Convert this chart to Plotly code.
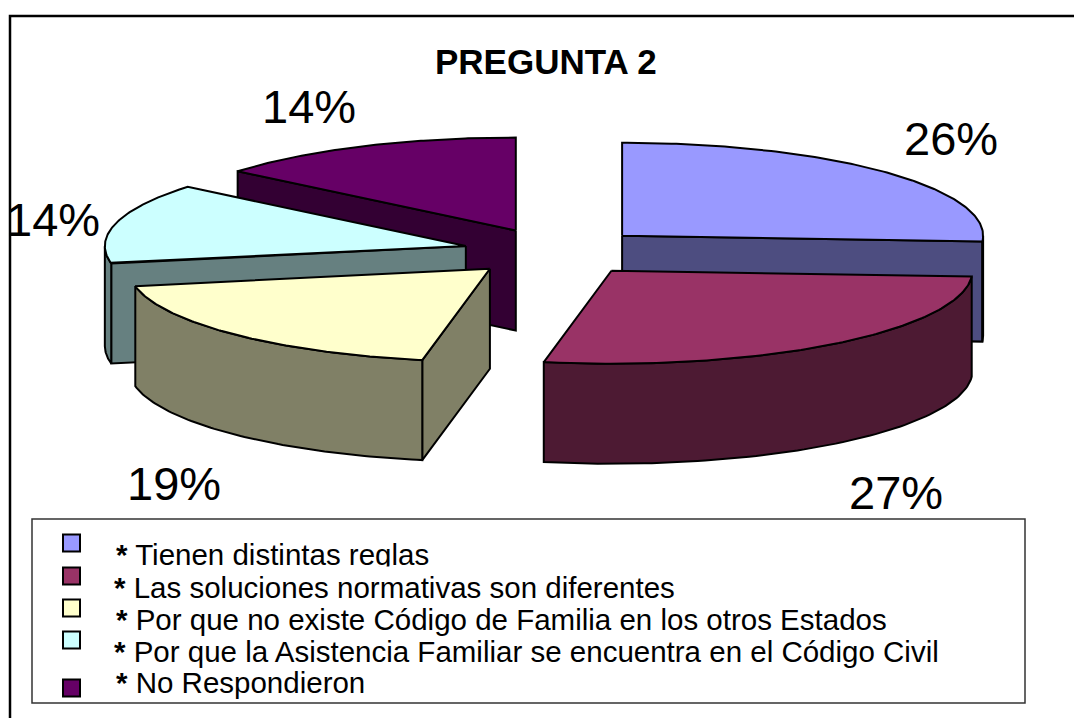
import numpy as np
import plotly.graph_objects as go

# ---- data ----
categories = [
    "Tienen distintas reglas",
    "Las soluciones normativas son diferentes",
    "Por que no existe Código de Familia en los otros Estados",
    "Por que la Asistencia Familiar se encuentra en el Código Civil",
    "No Respondieron",
]
values = [26, 27, 19, 14, 14]
title_text = "PREGUNTA 2"
top_colors = ["#9999FF", "#993366", "#FFFFCC", "#CCFFFF", "#660066"]
side_colors = ["#4D4D80", "#4D1A33", "#808066", "#668080", "#330033"]

# ---- layout of the drawing (pixels of the page) ----
W, H = 1074, 718
CX, CY, RX, RY = 555, 252, 361, 93
EXPLODE, DEPTH = 0.255, 100
FONT = "Liberation Sans, Arial, sans-serif"
label_pos = [(951, 153), (896, 507), (174, 498), (53, 234), (309, 121)]
legend_marker_x = 71.5
legend_marker_y = [543, 576, 608, 640, 688]
legend_text_x = [115, 113, 115, 113, 115]
legend_baseline = [565, 598, 630, 662, 693]
LABEL_PX, LEGEND_PX, TITLE_PX = 47, 29.5, 35
CLIP_PAD = 4

fig = go.Figure()


def poly(xs, ys, fill):
    fig.add_trace(go.Scatter(
        x=xs, y=ys, mode="lines", fill="toself", fillcolor=fill,
        line=dict(color="black", width=2), hoverinfo="skip", showlegend=False))


edges = np.cumsum([0] + values) / sum(values) * 2 * np.pi
mids = (edges[:-1] + edges[1:]) / 2
for i in np.argsort(-np.cos(mids)):
    a0, a1 = edges[i], edges[i + 1]
    ax = CX + EXPLODE * RX * np.sin(mids[i])
    ay = CY - EXPLODE * RY * np.cos(mids[i])
    rim = lambda t: (ax + RX * np.sin(t), ay - RY * np.cos(t))

    # cut faces that look towards the viewer
    if np.sin(a0) < -1e-9:
        px, py = rim(a0)
        poly([ax, px, px, ax, ax], [ay, py, py + DEPTH, ay + DEPTH, ay], side_colors[i])
    if np.sin(a1) > 1e-9:
        px, py = rim(a1)
        poly([ax, px, px, ax, ax], [ay, py, py + DEPTH, ay + DEPTH, ay], side_colors[i])

    # outer wall, front half only
    lo, hi = max(a0, np.pi / 2), min(a1, 3 * np.pi / 2)
    if hi > lo:
        t = np.linspace(lo, hi, 80)
        rx, ry = rim(t)
        poly(np.r_[rx, rx[::-1], rx[0]], np.r_[ry, ry[::-1] + DEPTH, ry[0]], side_colors[i])

    # top
    t = np.linspace(a0, a1, 120)
    rx, ry = rim(t)
    poly(np.r_[ax, rx, ax], np.r_[ay, ry, ay], top_colors[i])

# legend swatches
fig.add_trace(go.Scatter(
    x=[legend_marker_x] * len(categories), y=legend_marker_y, mode="markers",
    marker=dict(symbol="square", size=17, color=top_colors, line=dict(color="black", width=2)),
    hoverinfo="skip", showlegend=False))

ann = []
# percent labels
for v, (x, y) in zip(values, label_pos):
    ann.append(dict(x=x, y=y + LABEL_PX * 0.25, xref="x", yref="y", text=f"{v}%", showarrow=False,
                    xanchor="center", yanchor="bottom", borderpad=0, borderwidth=0,
                    font=dict(family=FONT, size=LABEL_PX, color="black")))
# title
ann.append(dict(x=546, y=73 + TITLE_PX * 0.25, xref="x", yref="y", text=f"<b>{title_text}</b>", showarrow=False,
                xanchor="center", yanchor="bottom", borderpad=0,
                font=dict(family=FONT, size=TITLE_PX, color="black")))
# legend texts; the second row's white box trims the first row's descenders, as in the reference
for i, (c, x, y) in enumerate(zip(categories, legend_text_x, legend_baseline)):
    pad = CLIP_PAD if i == 1 else 0
    ann.append(dict(x=x - pad, y=y + LEGEND_PX * 0.25 + pad, xref="x", yref="y", text=f"<b>*</b> {c}", showarrow=False,
                    xanchor="left", yanchor="bottom", borderpad=pad,
                    bgcolor="white" if i == 1 else None,
                    font=dict(family=FONT, size=LEGEND_PX, color="black")))

fig.update_layout(
    width=W, height=H, margin=dict(l=0, r=0, t=0, b=0),
    paper_bgcolor="white", plot_bgcolor="white", showlegend=False,
    xaxis=dict(range=[0, W], visible=False, fixedrange=True),
    yaxis=dict(range=[H, 0], visible=False, fixedrange=True),
    annotations=ann,
    shapes=[
        dict(type="path", path=f"M 10 {H} L 10 16 L {W} 16", xref="x", yref="y",
             line=dict(color="black", width=2.5), layer="below"),
        dict(type="rect", x0=32, y0=519, x1=1025, y1=703, xref="x", yref="y",
             line=dict(color="#333333", width=1.5), fillcolor="white", layer="below"),
    ],
)
fig.write_html("out.html", config=dict(displayModeBar=False),
               post_script="document.body.style.margin='0';document.body.style.overflow='hidden';")
